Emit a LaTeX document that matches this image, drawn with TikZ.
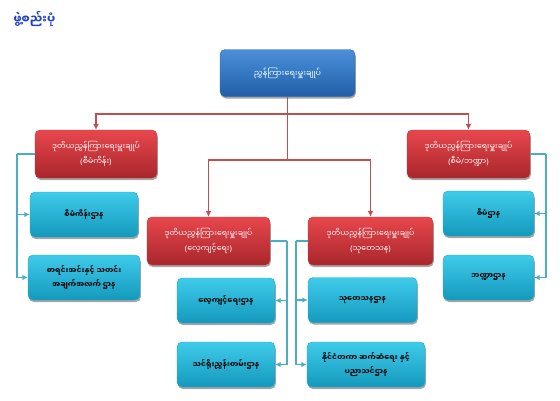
\documentclass[tikz,border=0pt]{standalone}
\usepackage{fontspec}
\newfontfamily\mm[Script=Myanmar]{Noto Sans Myanmar UI}
\newfontfamily\lat{Noto Sans}
\usetikzlibrary{shadows,arrows.meta}
\definecolor{topA}{HTML}{4A90D9}
\definecolor{topB}{HTML}{1F5FA8}
\definecolor{topE}{HTML}{2A6BB5}
\definecolor{redA}{HTML}{E8474D}
\definecolor{redB}{HTML}{A9262B}
\definecolor{redE}{HTML}{C0393E}
\definecolor{cyA}{HTML}{3FCBEA}
\definecolor{cyB}{HTML}{1499BD}
\definecolor{cyE}{HTML}{22A9CC}
\definecolor{redline}{HTML}{C0504D}
\definecolor{tealline}{HTML}{4BACC6}
\definecolor{titleblue}{HTML}{1F3FC8}
\newcommand\pl[1]{{\lat(}#1{\lat)}}
\begin{document}
\begin{tikzpicture}[x=1pt,y=-1pt,
  box/.style={rounded corners=5pt, align=center, inner sep=2pt,
    drop shadow={shadow xshift=0.8pt,shadow yshift=-2pt,opacity=0.35,fill=black}},
  topbox/.style={box, minimum width=135pt, minimum height=47pt,
    top color=topA, bottom color=topB, draw=topE, text=white,
    font=\mm\fontsize{8}{10}\selectfont},
  redbox/.style={box, minimum height=48pt, top color=redA, bottom color=redB,
    draw=redE, text=white, font=\mm\fontsize{7.8}{15}\selectfont},
  cybox/.style={box, minimum height=45pt, top color=cyA, bottom color=cyB,
    draw=cyE, text=black, font=\mm\bfseries\fontsize{7.5}{13.5}\selectfont},
  redarrow/.style={draw=redline, line width=1.6pt, -{Latex[length=6pt,width=6pt]}},
  redpath/.style={draw=redline, line width=1.6pt},
  tealarrow/.style={draw=tealline, line width=1.6pt, -{Latex[length=5.5pt,width=5.5pt]}},
  tealpath/.style={draw=tealline, line width=1.6pt}]
\useasboundingbox (0,0) rectangle (560,400);
\node[anchor=west, text=titleblue, font=\mm\bfseries\fontsize{11.5}{13}\selectfont] (title) at (10,19) {ဖွဲ့စည်းပုံ};

\node[topbox] (top) at (287.5,73) {ညွှန်ကြားရေးမှူးချုပ်};

\node[redbox, minimum width=122pt] (redL) at (96,154) {ဒုတိယညွှန်ကြားရေးမှူးချုပ်\\\pl{စီမံကိန်း}};
\node[redbox, minimum width=123pt] (redR) at (468.5,154) {ဒုတိယညွှန်ကြားရေးမှူးချုပ်\\\pl{စီမံ{\lat/}ဘဏ္ဍာ}};
\node[redbox, minimum width=123pt] (redML) at (208.5,241) {ဒုတိယညွှန်ကြားရေးမှူးချုပ်\\\pl{လေ့ကျင့်ရေး}};
\node[redbox, minimum width=125pt] (redMR) at (370.5,241) {ဒုတိယညွှန်ကြားရေးမှူးချုပ်\\\pl{သုတေသန}};

\node[cybox, minimum width=108pt] (L1) at (84,214.5) {စီမံကိန်းဌာန};
\node[cybox, minimum width=112pt] (L2) at (84,277.5) {စာရင်းအင်းနှင့် သတင်း\\အချက်အလက် ဌာန};
\node[cybox, minimum width=91pt] (R1) at (488.5,213.5) {စီမံဌာန};
\node[cybox, minimum width=91pt] (R2) at (488.5,277.5) {ဘဏ္ဍာဌာန};
\node[cybox, minimum width=98pt] (ML1) at (226,300.5) {လေ့ကျင့်ရေးဌာန};
\node[cybox, minimum width=98pt] (ML2) at (226,364.5) {သင်ရိုးညွှန်းတမ်းဌာန};
\node[cybox, minimum width=109pt] (MR1) at (362.5,300) {သုတေသနဌာန};
\node[cybox, minimum width=118pt] (MR2) at (366,364.5) {နိုင်ငံတကာ ဆက်ဆံရေး နှင့်\\ပညာသင်ဌာန};

% red connectors
\coordinate (j1) at (287.5,114);
\coordinate (j2) at (287.5,160);
\draw[redpath] (top.south) -- (j2);
\draw[redarrow] (j1) -| (redL.north);
\draw[redarrow] (j1) -| (redR.north);
\draw[redarrow] (j2) -| (redML.north);
\draw[redarrow] (j2) -| (redMR.north);

% teal connectors
\coordinate (tL) at (17,154);
\coordinate (tR) at (546,154);
\coordinate (tML) at (287,241);
\coordinate (tMR) at (296,241);
\draw[tealpath] (redL.west) -- (tL);
\draw[tealarrow] (tL) |- (L1.west);
\draw[tealarrow] (tL) |- (L2.west);
\draw[tealpath] (redR.east) -- (tR);
\draw[tealarrow] (tR) |- (R1.east);
\draw[tealarrow] (tR) |- (R2.east);
\draw[tealpath] (redML.east) -- (tML);
\draw[tealarrow] (tML) |- (ML1.east);
\draw[tealarrow] (tML) |- (ML2.east);
\draw[tealpath] (redMR.west) -- (tMR);
\draw[tealarrow] (tMR) |- (MR1.west);
\draw[tealarrow] (tMR) |- (MR2.west);
\end{tikzpicture}
\end{document}
